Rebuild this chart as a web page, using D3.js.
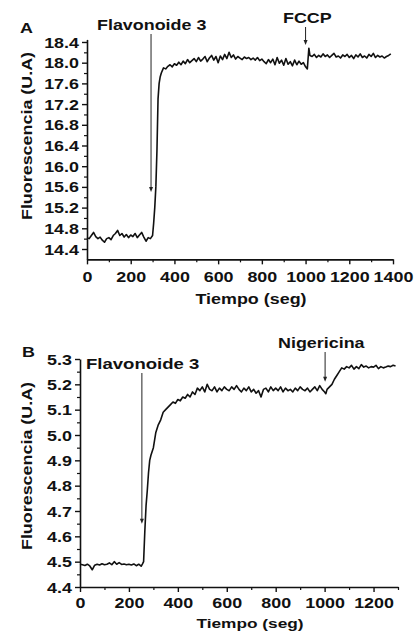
<!DOCTYPE html>
<html>
<head>
<meta charset="utf-8">
<script src="https://cdn.jsdelivr.net/npm/d3@7"></script>
<style>
  body { margin: 0; background: #fff; }
  svg text { font-family: "Liberation Sans", Arial, sans-serif; font-weight: bold; fill: #111; }
</style>
</head>
<body>
<svg id="chart" width="418" height="637"></svg>
<script>
// panel A : [tiempo, fluorescencia]
var seriesA = [
  [0,14.62],[10,14.60],[20,14.66],[30,14.72],[40,14.64],[50,14.60],[60,14.63],[70,14.57],[80,14.53],[90,14.60],
  [100,14.62],[110,14.58],[120,14.66],[130,14.70],[140,14.76],[150,14.66],[160,14.70],[170,14.63],[180,14.68],[190,14.62],
  [200,14.67],[210,14.64],[220,14.70],[230,14.62],[240,14.67],[250,14.72],[260,14.63],[270,14.55],[280,14.62],[290,14.60],
  [300,14.66],[305,14.90],[310,15.20],[315,15.60],[320,16.30],[325,17.30],[330,17.60],[335,17.73],[340,17.80],[350,17.90],
  [360,17.88],[370,17.93],[380,17.96],[390,17.92],[400,17.98],[410,17.95],[420,18.01],[430,17.96],[440,18.03],[450,17.98],
  [460,18.06],[470,18.00],[480,18.04],[490,18.08],[500,18.02],[510,18.10],[520,18.03],[530,18.07],[540,18.12],[550,18.02],
  [560,18.09],[570,18.14],[580,18.05],[590,18.12],[600,18.00],[610,18.13],[620,18.06],[630,18.16],[640,18.08],[650,18.20],
  [660,18.10],[670,18.15],[680,18.07],[690,18.12],[700,18.09],[710,18.06],[720,18.11],[730,18.08],[740,18.10],[750,18.06],
  [760,18.09],[770,18.05],[780,18.10],[790,18.04],[800,18.07],[810,18.02],[820,17.98],[830,18.06],[840,18.00],[850,18.07],
  [860,17.96],[870,18.10],[880,17.99],[890,18.05],[900,17.95],[910,18.08],[920,17.97],[930,18.02],[940,17.94],[950,18.05],
  [960,17.96],[970,18.03],[980,17.97],[990,18.00],[1000,17.92],[1008,17.88],[1015,18.28],[1020,18.14],[1030,18.12],[1040,18.16],
  [1050,18.10],[1060,18.14],[1070,18.11],[1080,18.17],[1090,18.12],[1100,18.15],[1110,18.10],[1120,18.14],[1130,18.18],[1140,18.11],
  [1150,18.13],[1160,18.09],[1170,18.15],[1180,18.12],[1190,18.16],[1200,18.10],[1210,18.14],[1220,18.08],[1230,18.15],[1240,18.11],
  [1250,18.17],[1260,18.10],[1270,18.13],[1280,18.09],[1290,18.16],[1300,18.12],[1310,18.18],[1320,18.10],[1330,18.14],[1340,18.11],
  [1350,18.13],[1360,18.09],[1370,18.12],[1380,18.14],[1390,18.17]
];

// panel B : [tiempo, fluorescencia]
var seriesB = [
  [0,4.490],[10,4.488],[20,4.485],[30,4.490],[40,4.483],[50,4.468],[60,4.486],[70,4.490],[80,4.487],[90,4.492],
  [100,4.488],[110,4.490],[120,4.495],[130,4.488],[140,4.500],[150,4.490],[160,4.496],[170,4.489],[180,4.491],[190,4.488],
  [200,4.490],[210,4.487],[220,4.491],[230,4.484],[240,4.490],[250,4.482],[255,4.490],[260,4.500],[265,4.620],[270,4.720],
  [275,4.780],[280,4.850],[285,4.900],[290,4.920],[300,4.950],[310,5.010],[320,5.040],[330,5.060],[340,5.090],[350,5.100],
  [360,5.110],[370,5.120],[380,5.130],[390,5.125],[400,5.140],[410,5.135],[420,5.150],[430,5.145],[440,5.160],[450,5.150],
  [460,5.170],[470,5.160],[480,5.185],[490,5.175],[500,5.190],[510,5.170],[520,5.200],[530,5.180],[540,5.175],[550,5.190],
  [560,5.170],[570,5.185],[580,5.175],[590,5.190],[600,5.180],[610,5.175],[620,5.190],[630,5.180],[640,5.195],[650,5.180],
  [660,5.170],[670,5.185],[680,5.175],[690,5.190],[700,5.170],[710,5.180],[720,5.165],[730,5.175],[740,5.150],[750,5.180],
  [760,5.185],[770,5.170],[780,5.190],[790,5.175],[800,5.185],[810,5.175],[820,5.190],[830,5.170],[840,5.185],[850,5.175],
  [860,5.180],[870,5.170],[880,5.185],[890,5.175],[900,5.190],[910,5.180],[920,5.175],[930,5.185],[940,5.170],[950,5.180],
  [960,5.190],[970,5.175],[980,5.195],[990,5.180],[1000,5.170],[1005,5.163],[1010,5.180],[1020,5.190],[1030,5.200],[1040,5.220],
  [1050,5.235],[1060,5.250],[1070,5.265],[1080,5.260],[1090,5.270],[1100,5.265],[1110,5.275],[1120,5.260],[1130,5.270],[1140,5.262],
  [1150,5.278],[1160,5.268],[1170,5.272],[1180,5.265],[1190,5.270],[1200,5.268],[1210,5.275],[1220,5.262],[1230,5.270],[1240,5.265],
  [1250,5.268],[1260,5.272],[1270,5.270],[1280,5.275],[1290,5.272]
];

// tick labels
var xTicksA = [0,200,400,600,800,1000,1200,1400];
var yTicksA = [14.4,14.8,15.2,15.6,16.0,16.4,16.8,17.2,17.6,18.0,18.4];
var xTicksB = [0,200,400,600,800,1000,1200];
var yTicksB = [4.4,4.5,4.6,4.7,4.8,4.9,5.0,5.1,5.2,5.3];

// annotations: label, time of arrow, value the arrow points to
var notesA = [{label:"Flavonoide 3", t:293, v:15.5}, {label:"FCCP", t:1000, v:18.34}];
var notesB = [{label:"Flavonoide 3", t:253, v:4.65}, {label:"Nigericina", t:1002, v:5.21}];

var SX = 1.28; // wide bold type in the original
var svg = d3.select("#chart");

function wideText(g, x, y, txt, anchor, size) {
  return g.append("text")
    .attr("transform", "translate(" + x + "," + y + ") scale(" + SX + ",1)")
    .attr("text-anchor", anchor || "start")
    .attr("font-size", (size || 14) + "px")
    .text(txt);
}

function drawPanel(cfg) {
  var g = svg.append("g");
  var x = d3.scaleLinear().domain(cfg.xDom).range(cfg.xRange);
  var y = d3.scaleLinear().domain(cfg.yDom).range(cfg.yRange);

  // minor ticks
  var xMinor = g.append("g").attr("transform", "translate(0," + cfg.yRange[0] + ")")
    .call(d3.axisBottom(x).tickValues(cfg.xMinor).tickSize(3).tickFormat(""));
  var yMinor = g.append("g").attr("transform", "translate(" + cfg.xRange[0] + ",0)")
    .call(d3.axisLeft(y).tickValues(cfg.yMinor).tickSize(3).tickFormat(""));
  [xMinor, yMinor].forEach(function(a){ a.select(".domain").remove(); a.selectAll("line").attr("stroke","#111").attr("stroke-width",1.2); });

  var xAxis = g.append("g").attr("transform", "translate(0," + cfg.yRange[0] + ")")
    .call(d3.axisBottom(x).tickValues(cfg.xTicks).tickSize(5).tickSizeOuter(0).tickFormat(d3.format("d")));
  xAxis.selectAll("text").attr("y", null).attr("dy", null)
    .attr("transform", "translate(0," + cfg.xTickY + ") scale(" + SX + ",1)")
    .attr("font-size", "14px").attr("fill", "#111");

  var yAxis = g.append("g").attr("transform", "translate(" + cfg.xRange[0] + ",0)")
    .call(d3.axisLeft(y).tickValues(cfg.yTicks).tickSize(5).tickSizeOuter(0).tickFormat(d3.format(".1f")));
  yAxis.selectAll("text").attr("x", null).attr("dy", "0.36em")
    .attr("transform", "translate(-8,0) scale(" + SX + ",1)")
    .attr("font-size", "14px").attr("fill", "#111");

  [xAxis, yAxis].forEach(function(a){
    a.select(".domain").attr("stroke", "#111").attr("stroke-width", 1.6);
    a.selectAll(".tick line").attr("stroke", "#111").attr("stroke-width", 1.4);
  });

  // trace
  g.append("path")
    .datum(cfg.data)
    .attr("fill", "none")
    .attr("stroke", "#111")
    .attr("stroke-width", 1.6)
    .attr("stroke-linejoin", "round")
    .attr("d", d3.line().x(function(d){ return x(d[0]); }).y(function(d){ return y(d[1]); }));

  // annotations
  cfg.notes.forEach(function(n, i) {
    var ax = x(n.t), tip = y(n.v);
    var top = cfg.noteY[i] + 4;
    g.append("line").attr("x1", ax).attr("x2", ax).attr("y1", top).attr("y2", tip - 4)
      .attr("stroke", "#222").attr("stroke-width", 1);
    g.append("path")
      .attr("d", "M" + (ax - 2) + "," + (tip - 5) + "L" + (ax + 2) + "," + (tip - 5) + "L" + ax + "," + tip + "Z")
      .attr("fill", "#222");
    wideText(g, cfg.noteX[i], cfg.noteY[i], n.label, "start", cfg.noteSize[i]);
  });

  wideText(g, cfg.letter[0], cfg.letter[1], cfg.name, "start", 14);
  wideText(g, (cfg.xRange[0] + cfg.xRange[1]) / 2 + 11, cfg.xLabelY, "Tiempo (seg)", "middle", cfg.xLabelSize);
  g.append("text")
    .attr("transform", "translate(32," + cfg.yLabelY + ") rotate(-90) scale(" + SX + ",1)")
    .attr("text-anchor", "middle")
    .attr("font-size", "14px")
    .text("Fluorescencia (U.A)");
}

drawPanel({
  name: "A", letter: [20, 33],
  data: seriesA,
  xDom: [0, 1400], xRange: [87, 393],
  yDom: [14.2, 18.45], yRange: [259.35, 39.4],
  xTicks: xTicksA, yTicks: yTicksA,
  xMinor: [100,300,500,700,900,1100,1300],
  yMinor: [14.6,15.0,15.4,15.8,16.2,16.6,17.0,17.4,17.8,18.2],
  notes: notesA, noteX: [97, 283], noteY: [30, 23], noteSize: [14, 14],
  xTickY: 23, xLabelY: 304, xLabelSize: 14, yLabelY: 136
});

drawPanel({
  name: "B", letter: [22, 357],
  data: seriesB,
  xDom: [0, 1300], xRange: [80, 398],
  yDom: [4.4, 5.3], yRange: [587, 359],
  xTicks: xTicksB, yTicks: yTicksB,
  xMinor: [100,300,500,700,900,1100,1300],
  yMinor: [4.45,4.55,4.65,4.75,4.85,4.95,5.05,5.15,5.25],
  notes: notesB, noteX: [86, 278], noteY: [369, 348], noteSize: [14.5, 14],
  xTickY: 21, xLabelY: 628, xLabelSize: 13.5, yLabelY: 466
});
</script>
</body>
</html>
